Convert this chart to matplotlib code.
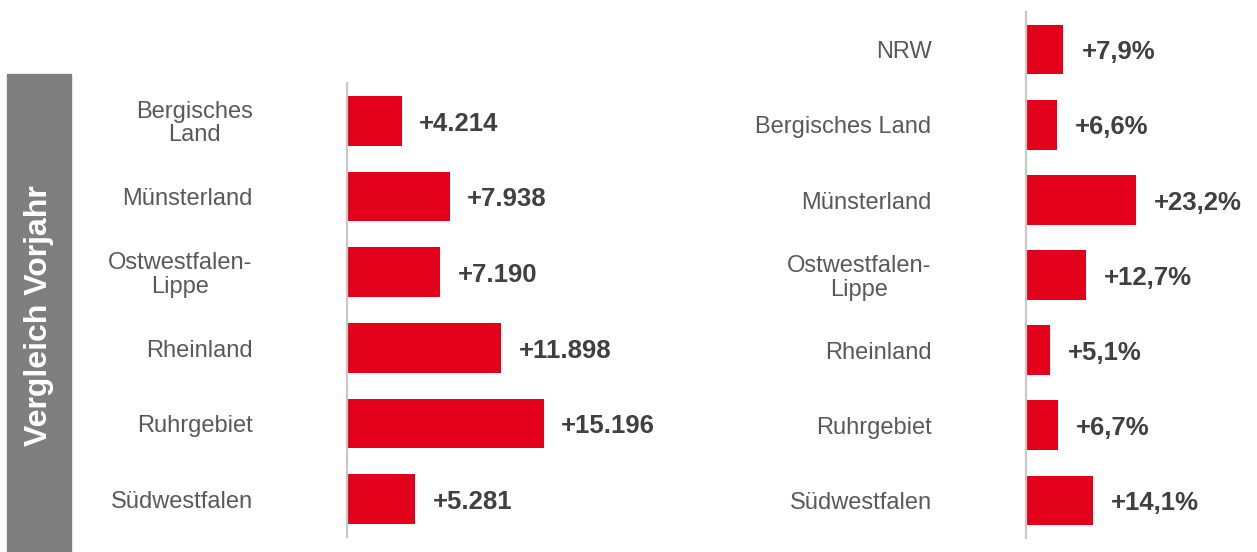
# Zuwachs gegenüber Vorjahr: absolut (links) und prozentual (rechts)

import matplotlib.pyplot as plt
from matplotlib.patches import Rectangle

plt.rcParams['font.family'] = ['Liberation Sans', 'DejaVu Sans']

# data
regions_abs = ['Bergisches\nLand', 'Münsterland', 'Ostwestfalen-\nLippe',
               'Rheinland', 'Ruhrgebiet', 'Südwestfalen']
values_abs = [4214, 7938, 7190, 11898, 15196, 5281]

regions_pct = ['NRW', 'Bergisches Land', 'Münsterland', 'Ostwestfalen-\nLippe',
               'Rheinland', 'Ruhrgebiet', 'Südwestfalen']
values_pct = [7.9, 6.6, 23.2, 12.7, 5.1, 6.7, 14.1]

side_title = 'Vergleich Vorjahr'

RED = '#E2001A'
LABEL = '#595959'
VALUE = '#404040'
AXIS = '#C8C8C8'

W, H = 1257, 552
fig = plt.figure(figsize=(W / 100, H / 100), dpi=100)


def px_axes(left, top, right, bottom):
    return fig.add_axes([left / W, 1 - bottom / H, (right - left) / W, (bottom - top) / H])


def style(ax, labels):
    for s in ['top', 'right', 'bottom']:
        ax.spines[s].set_visible(False)
    ax.spines['left'].set_color(AXIS)
    ax.spines['left'].set_linewidth(1.6)
    ax.set_xticks([])
    ax.set_yticks([])
    ax.set_ylim(len(labels) - 0.5, -0.5)
    ax.patch.set_visible(False)
    # category names left of the axis line
    for i, name in enumerate(labels):
        ax.annotate(name, (0, i), xytext=(-68, -2), textcoords='offset points',
                    ha='right', va='center', multialignment='center',
                    fontsize=17, color=LABEL, linespacing=1.1, annotation_clip=False)


# left panel: absolute
ax1 = px_axes(347, 83, 700, 537)
ax1.barh(range(len(values_abs)), values_abs, height=0.66, color=RED)
ax1.set_xlim(0, 353 / 0.01295)
style(ax1, regions_abs)
for i, v in enumerate(values_abs):
    ax1.annotate('+' + f'{v:,}'.replace(',', '.'), (v, i), xytext=(12.5, -2),
                 textcoords='offset points', va='center', ha='left',
                 fontsize=18.5, fontweight='bold', color=VALUE)

# right panel: percent
ax2 = px_axes(1026, 12, 1257, 538)
ax2.barh(range(len(values_pct)), values_pct, height=0.66, color=RED)
ax2.set_xlim(0, 231 / 4.74)
style(ax2, regions_pct)
for i, v in enumerate(values_pct):
    ax2.annotate('+' + f'{v:.1f}'.replace('.', ',') + '%', (v, i), xytext=(13, -2),
                 textcoords='offset points', va='center', ha='left',
                 fontsize=18.5, fontweight='bold', color=VALUE, annotation_clip=False)

# grey side box with title
fig.patches.append(Rectangle((7 / W, 0), 64 / W, (H - 74) / H, transform=fig.transFigure,
                             color='#7F7F7F', zorder=0))
fig.text(39 / W, 1 - 316 / H, side_title, rotation=90, ha='center', va='center',
         fontsize=23, fontweight='bold', color='white')

fig.savefig('out.png', dpi=100)
